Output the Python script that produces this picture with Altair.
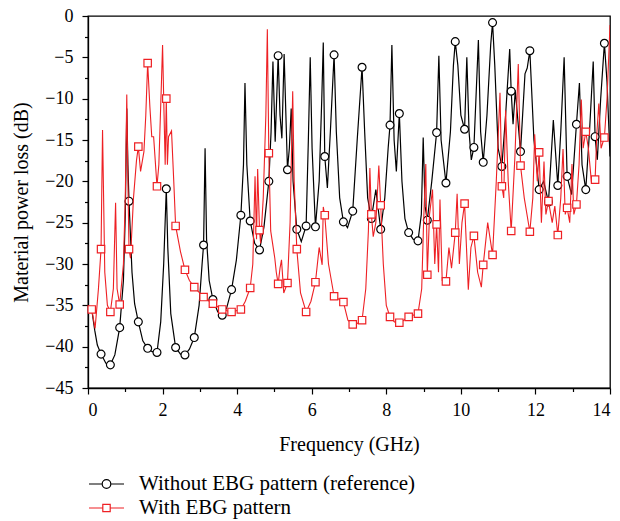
import altair as alt
import pandas as pd

NAME_A = "Without EBG pattern (reference)"
NAME_B = "With EBG pattern"

# ---- markers (every 0.25 GHz) ----
black_mark_f = [0.35, 0.60, 0.85, 1.10, 1.35, 1.60, 1.85, 2.10, 2.35, 2.60, 2.85, 3.10, 3.35, 3.60,
                3.85, 4.10, 4.35, 4.60, 4.85, 5.10, 5.35, 5.60, 5.85, 6.10, 6.35, 6.60, 6.85, 7.10,
                7.35, 7.60, 7.85, 8.10, 8.35, 8.60, 8.85, 9.10, 9.35, 9.60, 9.85, 10.10, 10.35, 10.60,
                10.85, 11.10, 11.35, 11.60, 11.85, 12.10, 12.35, 12.60, 12.85, 13.10, 13.35, 13.60, 13.85]
black_mark_db = [-40.9, -42.2, -37.7, -22.4, -37.0, -40.2, -40.7, -20.9, -40.1, -41.0, -38.9, -27.7, -34.3, -36.2,
                 -33.1, -24.1, -24.8, -28.3, -20.0, -4.8, -18.6, -25.8, -25.4, -25.5, -17.0, -4.7, -24.9, -23.6,
                 -6.2, -24.5, -25.8, -13.2, -11.8, -26.2, -27.2, -24.7, -14.1, -20.2, -3.1, -13.7, -15.9, -17.7,
                 -0.8, -18.2, -9.1, -16.4, -4.2, -21.0, -22.5, -20.5, -19.4, -13.1, -21.0, -14.6, -3.3]

red_mark_f = [0.10, 0.35, 0.60, 0.85, 1.10, 1.35, 1.60, 1.85, 2.10, 2.35, 2.60, 2.85, 3.10, 3.35,
              3.60, 3.85, 4.10, 4.35, 4.60, 4.85, 5.10, 5.35, 5.60, 5.85, 6.10, 6.35, 6.60, 6.85,
              7.10, 7.35, 7.60, 7.85, 8.10, 8.35, 8.60, 8.85, 9.10, 9.35, 9.60, 9.85, 10.10, 10.35,
              10.60, 10.85, 11.10, 11.35, 11.60, 11.85, 12.10, 12.35, 12.60, 12.85, 13.10, 13.35, 13.60, 13.85]
red_mark_db = [-35.5, -28.2, -35.8, -34.9, -28.2, -15.8, -5.7, -20.6, -10.0, -25.4, -30.7, -32.8, -34.0, -34.8,
               -35.5, -35.8, -35.5, -32.9, -25.9, -16.6, -32.4, -32.3, -28.2, -35.8, -32.2, -24.1, -33.9, -34.6,
               -37.3, -36.8, -24.0, -22.9, -36.4, -37.1, -36.4, -36.0, -31.3, -25.2, -32.1, -26.2, -22.7, -26.6,
               -30.1, -28.9, -20.6, -26.0, -18.1, -26.1, -16.5, -22.4, -26.5, -23.2, -22.8, -14.0, -19.8, -14.7]

# ---- intermediate curve points (between markers) ----
black_line_f = [0.10, 0.18, 0.25, 0.48, 0.72, 0.95, 1.00, 1.04, 1.07, 1.18, 1.25, 1.47, 1.72, 1.95, 2.03,
                2.14, 2.22, 2.48, 2.72, 2.98, 3.06, 3.14, 3.18, 3.25, 3.48, 3.72, 3.98, 4.17, 4.21, 4.26,
                4.47, 4.72, 4.91, 4.96, 5.02, 5.15, 5.20, 5.26, 5.40, 5.45, 5.50, 5.72, 5.91, 5.96, 6.01,
                6.20, 6.27, 6.31, 6.42, 6.50, 6.66, 6.75, 6.96, 7.22, 7.42, 7.50, 7.72, 7.96, 8.05, 8.15,
                8.21, 8.27, 8.42, 8.50, 8.72, 8.94, 8.99, 9.04, 9.22, 9.41, 9.47, 9.72, 9.80, 9.92, 10.00,
                10.16, 10.22, 10.28, 10.47, 10.53, 10.70, 10.80, 10.91, 11.00, 11.20, 11.31, 11.40, 11.46,
                11.72, 11.78, 11.96, 12.22, 12.48, 12.68, 12.77, 12.97, 13.18, 13.25, 13.45, 13.55, 13.66,
                13.75, 13.92, 14.00]
black_line_db = [-35.5, -38.0, -39.8, -42.0, -41.0, -32.0, -24.0, -11.2, -18.0, -31.0, -34.8, -39.3, -40.6, -37.0, -30.0,
                 -28.0, -36.0, -40.9, -40.3, -35.0, -30.0, -16.0, -27.0, -32.0, -35.8, -35.3, -29.5, -18.0, -8.1, -18.0,
                 -27.5, -25.5, -14.0, -5.5, -15.2, -12.0, -14.8, -4.6, -16.0, -11.2, -20.0, -27.3, -15.0, -5.0, -16.0,
                 -20.0, -10.0, -3.2, -20.8, -14.0, -14.0, -22.0, -25.6, -15.0, -14.0, -22.0, -21.0, -22.0, -16.0, -3.5,
                 -15.0, -18.8, -20.0, -24.5, -27.0, -24.0, -14.7, -23.0, -20.0, -4.8, -15.0, -14.0, -6.0, -6.0, -12.0,
                 -5.0, -14.0, -17.4, -2.9, -14.0, -12.0, -3.5, -6.0, -16.0, -12.0, -4.0, -13.1, -9.0,
                 -7.0, -6.3, -15.0, -20.0, -12.6, -14.0, -5.0, -21.6, -8.1, -18.0, -14.0, -5.5, -17.4,
                 -10.0, -8.0, -17.0]

red_line_f = [0.19, 0.28, 0.39, 0.45, 0.52, 0.68, 0.74, 0.78, 0.95, 1.00, 1.04, 1.07, 1.14, 1.22, 1.30,
              1.41, 1.50, 1.55, 1.66, 1.71, 1.76, 1.90, 1.97, 2.00, 2.04, 2.07, 2.13, 2.16, 2.24, 2.30,
              2.48, 2.72, 4.22, 4.42, 4.48, 4.52, 4.55, 4.63, 4.70, 4.77, 4.81, 4.90, 5.01, 5.05, 5.15,
              5.19, 5.25, 5.42, 5.49, 5.53, 5.70, 5.98, 6.20, 6.28, 6.31, 6.45, 6.97, 7.22, 7.45, 7.52,
              7.56, 7.65, 7.72, 7.80, 7.92, 8.00, 8.22, 8.47, 8.72, 8.95, 9.00, 9.06, 9.16, 9.24, 9.30,
              9.40, 9.44, 9.50, 9.68, 9.75, 9.90, 9.96, 10.03, 10.20, 10.27, 10.45, 10.55, 10.72, 10.95,
              11.05, 11.15, 11.20, 11.27, 11.45, 11.54, 11.70, 11.93, 11.98, 12.05, 12.16, 12.23, 12.28,
              12.45, 12.52, 12.68, 12.74, 12.80, 12.92, 12.98, 13.03, 13.17, 13.23, 13.28, 13.42, 13.50,
              13.65, 13.70, 13.76, 13.92, 14.00]
red_line_db = [-37.8, -33.0, -13.8, -31.0, -35.0, -33.0, -22.6, -33.0, -30.0, -22.0, -9.5, -20.0, -29.3, -22.0, -17.5,
               -18.8, -16.4, -12.0, -11.0, -14.6, -14.6, -18.0, -8.0, -3.5, -12.0, -18.0, -18.0, -14.6, -13.9, -20.0,
               -28.5, -32.0, -34.5, -30.0, -19.4, -27.0, -18.5, -27.5, -22.0, -12.0, -1.6, -26.0, -29.3, -31.0, -30.5,
               -29.5, -33.5, -25.0, -9.1, -20.0, -33.5, -34.5, -28.0, -30.1, -23.1, -30.0, -36.8, -37.2, -33.0, -26.0,
               -18.4, -26.7, -25.0, -18.1, -30.0, -35.0, -37.0, -36.8, -36.2, -33.0, -25.0, -17.9, -24.0, -21.0, -30.0,
               -31.0, -22.2, -32.0, -28.0, -30.5, -21.5, -30.0, -25.0, -33.1, -28.0, -31.0, -32.8, -25.0, -20.0,
               -9.3, -22.0, -11.4, -20.0, -17.0, -5.8, -22.0, -22.0, -14.3, -20.0, -25.0, -17.6, -24.0,
               -25.0, -23.0, -22.0, -16.1, -24.0, -25.0, -17.9, -24.0, -18.0, -10.1, -16.0, -16.0, -20.0,
               -14.0, -10.6, -16.0, -10.0, -1.1]

x_major = [0, 2, 4, 6, 8, 10, 12, 14]
x_minor = [1, 3, 5, 7, 9, 11, 13]
y_major = [-45, -40, -35, -30, -25, -20, -15, -10, -5, 0]
y_minor = [-42.5, -37.5, -32.5, -27.5, -22.5, -17.5, -12.5, -7.5, -2.5]

BLACK = "#000000"
RED = "#ee2024"
FONT = "Liberation Serif, DejaVu Serif, serif"


def series_frame(mf, mv, lf, lv):
    df = pd.DataFrame({"f": list(mf) + list(lf), "db": list(mv) + list(lv)})
    df = df.sort_values("f", kind="stable").reset_index(drop=True)
    df["order"] = range(len(df))
    return df


black_df = series_frame(black_mark_f, black_mark_db, black_line_f, black_line_db)
red_df = series_frame(red_mark_f, red_mark_db, red_line_f, red_line_db)
black_pts = pd.DataFrame({"f": black_mark_f, "db": black_mark_db})
red_pts = pd.DataFrame({"f": red_mark_f, "db": red_mark_db})
legend_df = pd.DataFrame({"series": [NAME_A, NAME_B], "f": [0.0, 0.0], "db": [0.0, 0.0]})

xscale = alt.Scale(domain=[0, 14], nice=False, zero=False)
yscale = alt.Scale(domain=[-45, 0], nice=False, zero=False)

circ_path = ("M-1.75,0 H-0.43 M0.43,0 H1.75 M-0.43,0 A0.43,0.43 0 1,0 0.43,0 "
             "A0.43,0.43 0 1,0 -0.43,0 Z")
sq_path = "M-1.75,0 H-0.37 M0.37,0 H1.75 M-0.37,-0.37 H0.37 V0.37 H-0.37 Z"

legend = alt.Legend(
    title=None, orient="none", legendX=7.5, legendY=457, direction="vertical",
    symbolSize=400, symbolStrokeWidth=1.2, labelOffset=21.5, rowPadding=3,
    labelFont=FONT, labelFontSize=21, labelColor="black", padding=0, labelLimit=500,
    symbolFillColor="white", symbolOpacity=1,
)

x_axis_major = alt.Axis(values=x_major, tickSize=6, labelPadding=7, title="Frequency (GHz)",
                        titlePadding=15, grid=False, orient="bottom",
                        labelFont=FONT, labelFontSize=18, titleFont=FONT, titleFontSize=20)
y_axis_major = alt.Axis(values=y_major, tickSize=6, labelPadding=9, title="Material power loss (dB)",
                        titlePadding=13, grid=False, orient="left", format="d",
                        labelFont=FONT, labelFontSize=18, titleFont=FONT, titleFontSize=20)

black_line = alt.Chart(black_df).mark_line(strokeWidth=1.2, clip=True, color=BLACK).encode(
    x=alt.X("f:Q", scale=xscale, axis=x_axis_major),
    y=alt.Y("db:Q", scale=yscale, axis=y_axis_major),
    order="order:Q",
)
red_line = alt.Chart(red_df).mark_line(strokeWidth=1.1, clip=True, color=RED).encode(
    x=alt.X("f:Q", scale=xscale, axis=None),
    y=alt.Y("db:Q", scale=yscale, axis=None),
    order="order:Q",
)
black_points = alt.Chart(black_pts).mark_point(
    shape="circle", size=62, filled=True, fill="white", stroke=BLACK, strokeWidth=1.2, opacity=1
).encode(
    x=alt.X("f:Q", scale=xscale, axis=None),
    y=alt.Y("db:Q", scale=yscale, axis=None),
)
red_points = alt.Chart(red_pts).mark_point(
    shape="square", size=55, filled=True, fill="white", stroke=RED, strokeWidth=1.2, opacity=1
).encode(
    x=alt.X("f:Q", scale=xscale, axis=None),
    y=alt.Y("db:Q", scale=yscale, axis=None),
)
legend_layer = alt.Chart(legend_df).mark_point(
    filled=False, size=400, strokeWidth=1.2, opacity=1
).encode(
    x=alt.X("f:Q", scale=xscale, axis=None),
    y=alt.Y("db:Q", scale=yscale, axis=None),
    stroke=alt.Stroke("series:N", scale=alt.Scale(domain=[NAME_A, NAME_B], range=[BLACK, RED]),
                      legend=legend),
    shape=alt.Shape("series:N", scale=alt.Scale(domain=[NAME_A, NAME_B], range=[circ_path, sq_path]),
                    legend=legend),
).transform_filter("false")
minor = alt.Chart(black_pts).mark_point(opacity=0, size=0).encode(
    x=alt.X("f:Q", scale=xscale,
            axis=alt.Axis(values=x_minor, tickSize=3.5, labels=False, domain=False, title=None,
                          grid=False, orient="bottom")),
    y=alt.Y("db:Q", scale=yscale,
            axis=alt.Axis(values=y_minor, tickSize=3.5, labels=False, domain=False, title=None,
                          grid=False, orient="left")),
)

chart = alt.layer(black_line, black_points, red_line, red_points, legend_layer, minor).resolve_axis(
    x="independent", y="independent"
).properties(
    width=522, height=372,
    padding={"left": 88, "top": 16, "right": 10, "bottom": 133},
    autosize=alt.AutoSizeParams(type="none"),
).configure_view(
    stroke="black", strokeWidth=1.3
).configure_axis(
    domainColor="black", domainWidth=1.3, tickColor="black", tickWidth=1.2,
    labelFont=FONT, labelFontSize=18, labelColor="black",
    titleFont=FONT, titleFontSize=20, titleFontWeight="normal", titleColor="black",
)

chart.save("out.html", embed_options={"renderer": "svg", "actions": False})
